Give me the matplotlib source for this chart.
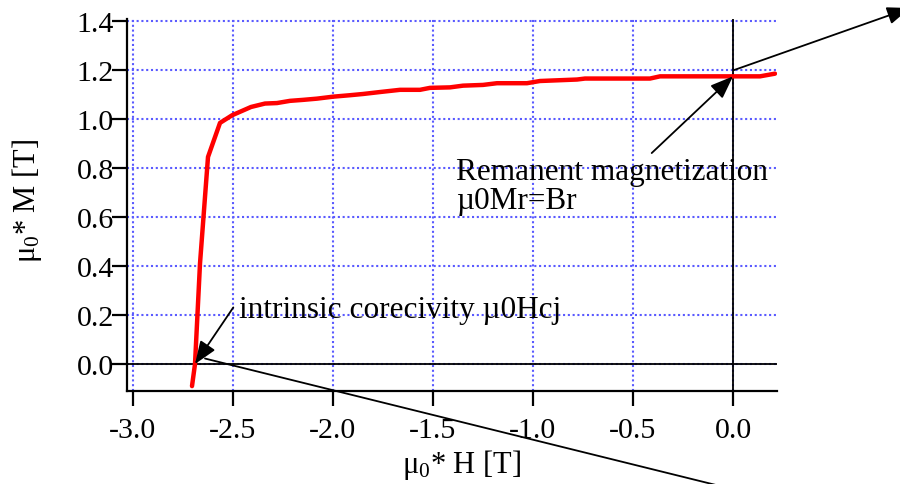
import matplotlib
matplotlib.use("Agg")
import matplotlib.pyplot as plt
import numpy as np

# Demagnetization curve
H = [-2.705, -2.69, -2.665, -2.625, -2.565, -2.505, -2.41, -2.34, -2.28, -2.215,
     -2.15, -2.08, -2.0, -1.915, -1.85, -1.765, -1.665, -1.565, -1.515, -1.415,
     -1.35, -1.25, -1.18, -1.03, -0.965, -0.78, -0.74, -0.415, -0.365, 0.135, 0.21]
M = [-0.09, 0.0, 0.41, 0.845, 0.984, 1.015, 1.049, 1.063, 1.065, 1.074,
     1.078, 1.083, 1.091, 1.097, 1.102, 1.11, 1.119, 1.119, 1.127, 1.129,
     1.136, 1.139, 1.146, 1.146, 1.155, 1.161, 1.165, 1.165, 1.174, 1.174, 1.185]

x_ticks = [-3.0, -2.5, -2.0, -1.5, -1.0, -0.5, 0.0]
y_ticks = [0.0, 0.2, 0.4, 0.6, 0.8, 1.0, 1.2, 1.4]
Br = 1.174
Hcj = -2.69

plt.rcParams['font.family'] = ['Liberation Serif', 'DejaVu Serif']
plt.rcParams['mathtext.fontset'] = 'custom'
plt.rcParams['mathtext.rm'] = 'Liberation Serif'
plt.rcParams['mathtext.it'] = 'Liberation Serif:italic'

fig = plt.figure(figsize=(9, 4.85), dpi=100)
ax = fig.add_axes([127/900, 1-392/485, (777-127)/900, (392-20)/485])

ax.set_xlim(-3.03, 0.22)
ax.set_ylim(-0.11, 1.408)

ax.set_xticks(x_ticks)
ax.set_xticklabels([f"{v:.1f}" for v in x_ticks])
ax.set_yticks(y_ticks)
ax.set_yticklabels([f"{v:.1f}" for v in y_ticks])

ax.grid(True, color='#5a5aff', linestyle=(0, (1, 1.3)), linewidth=1.5)
ax.set_axisbelow(True)

for s in ['top', 'right']:
    ax.spines[s].set_visible(False)
for s in ['left', 'bottom']:
    ax.spines[s].set_linewidth(1.6)

ax.tick_params(axis='both', direction='out', length=10.5, width=1.6, labelsize=21.5)
ax.tick_params(axis='x', pad=8)
ax.tick_params(axis='y', pad=-1)

ax.axhline(0, color='black', lw=1.3, zorder=2)
ax.axvline(0, color='black', lw=1.3, zorder=2)

ax.plot(H, M, color='#ff0000', lw=3.2, zorder=3, solid_capstyle='round')

ax.set_xlabel(r'$\mathrm{\mu}_0$* H [T]', fontsize=22)
ax.set_ylabel(r'$\mathrm{\mu}_0$* M [T]', fontsize=22)
ax.xaxis.set_label_coords((462-127)/650, (392-448)/372)
ax.yaxis.set_label_coords((44-127)/650, (392-201)/372)

arrow = dict(arrowstyle='-|>,head_length=0.7,head_width=0.27', color='black', lw=1.3,
             mutation_scale=20, shrinkA=0, shrinkB=0)

# Remanent magnetization
ax.annotate('', xy=(0.0, Br), xytext=(-0.4065, 0.861), arrowprops=arrow, zorder=5)
ax.text(-1.385, 0.755, 'Remanent magnetization', fontsize=22.5, va='baseline', ha='left')
ax.text(-1.385, 0.637, 'µ0Mr=Br', fontsize=22.5, va='baseline', ha='left')

# Intrinsic coercivity
ax.annotate('', xy=(Hcj, 0.0), xytext=(-2.4985, 0.231), arrowprops=arrow, zorder=5)
ax.text(-2.47, 0.19, 'intrinsic corecivity µ0Hcj', fontsize=22.5, va='baseline', ha='left')

# Long leader lines leaving the figure
ax.annotate('', xy=(910/900, 1 - 9/485), xycoords='figure fraction',
            xytext=(0.003, 1.199), textcoords='data',
            arrowprops=dict(arrowstyle='-|>,head_length=0.7,head_width=0.27', color='black',
                            lw=1.3, mutation_scale=20, shrinkA=0, shrinkB=0),
            annotation_clip=False)
ax.annotate('', xy=(720/900, -2/485), xycoords='figure fraction',
            xytext=(-2.64, 0.0225), textcoords='data',
            arrowprops=dict(arrowstyle='-', color='black', lw=1.3, shrinkA=0, shrinkB=0),
            annotation_clip=False)

fig.savefig('out.png', dpi=100)
